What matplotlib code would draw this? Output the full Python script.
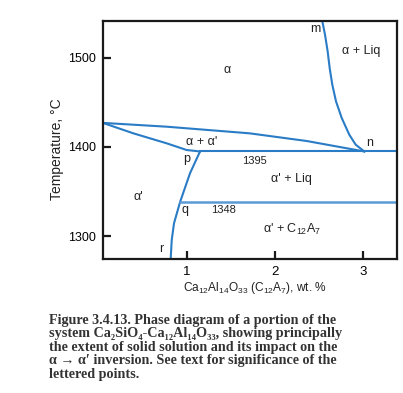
import matplotlib
matplotlib.use("Agg")
import matplotlib.pyplot as plt
from matplotlib import font_manager

names = {f.name for f in font_manager.fontManager.ttflist}
SANS = "Liberation Sans Narrow" if "Liberation Sans Narrow" in names else "Liberation Sans"

plt.rcParams['mathtext.fontset'] = 'custom'
plt.rcParams['mathtext.rm'] = SANS
plt.rcParams['mathtext.it'] = SANS
plt.rcParams['mathtext.bf'] = 'Liberation Serif:bold'

# ---- data ----
upper_x = [0.04, 0.77, 1.71, 2.36, 3.015]
upper_y = [1427, 1422.7, 1415.3, 1406.7, 1395]
lower_x = [0.04, 0.387, 0.767, 0.994, 1.146]
lower_y = [1427, 1415.3, 1404.1, 1396.6, 1395]
m_x = [2.536, 2.568, 2.598, 2.621, 2.651, 2.693, 2.758, 2.844, 2.917, 3.015]
m_y = [1541.4, 1525.7, 1507.1, 1488.4, 1469.7, 1451.1, 1432.5, 1413.8, 1402.6, 1395]
pqr_x = [1.146, 1.032, 0.918, 0.85, 0.824, 0.812]
pqr_y = [1395, 1370.6, 1338.1, 1314.6, 1295.9, 1274.6]
eut_x = [1.146, 3.387]
eut_y = [1395, 1395]
q_x = [0.918, 3.387]
q_y = [1338.1, 1338.1]

xticks = [1, 2, 3]
yticks = [1300, 1400, 1500]

labels = [
    ("m", 2.46, 1532), ("α + Liq", 2.98, 1508), ("α", 1.45, 1486),
    ("α + α'", 1.17, 1406), ("n", 3.08, 1405), ("p", 0.99, 1387),
    ("1395", 1.77, 1384), ("α' + Liq", 2.19, 1364), ("α'", 0.45, 1344),
    ("q", 0.97, 1329), ("1348", 1.41, 1329),
    ("α' + C$_{12}$A$_7$", 2.19, 1308), ("r", 0.70, 1286),
]

caption = [
    "Figure 3.4.13. Phase diagram of a portion of the",
    "system Ca₂SiO₄-Ca₁₂Al₁₄O₃₃, showing principally",
    "the extent of solid solution and its impact on the",
    "α → α′ inversion. See text for significance of the",
    "lettered points.",
]
caption_y = [320.5, 333.9, 347.3, 360.7, 374.1]

W, H = 403, 393
fig = plt.figure(figsize=(W / 100, H / 100), dpi=100)
ax = fig.add_axes([103 / W, 1 - 259 / H, (397 - 103) / W, (259 - 20.7) / H])

blue = "#2a7cc6"
lw = 1.5
ax.plot(upper_x, upper_y, color=blue, lw=lw)
ax.plot(lower_x, lower_y, color=blue, lw=lw)
ax.plot(m_x, m_y, color=blue, lw=lw)
ax.plot(pqr_x, pqr_y, color=blue, lw=lw)
ax.plot(eut_x, eut_y, color=blue, lw=lw)
ax.plot(q_x, q_y, color="#5c9ad6", lw=lw + 0.3)

ax.set_xlim(0.042, 3.387)
ax.set_ylim(1274.6, 1541.4)
ax.set_xticks(xticks)
ax.set_yticks(yticks)
ax.set_xticklabels([str(v) for v in xticks], fontsize=9.5, family=SANS)
ax.set_yticklabels([str(v) for v in yticks], fontsize=9, family=SANS)
ax.tick_params(direction="in", length=6, width=1.6, color="#1a1a1a", pad=5)
for s in ax.spines.values():
    s.set_linewidth(1.6)
    s.set_color("#1a1a1a")

for t, x, y in labels:
    fs = 8 if t in ("1395", "1348") else 9
    ax.text(x, y, t, ha="center", va="center", fontsize=fs, family=SANS, color="#222222")

fig.text(57 / W, 1 - 149 / H, "Temperature, °C", rotation=90, ha="center", va="center",
         fontsize=10, family=SANS, color="#222222")
fig.text(255 / W, 1 - 288 / H, "Ca$_{12}$Al$_{14}$O$_{33}$ (C$_{12}$A$_7$), wt. %",
         ha="center", va="center", fontsize=8.6, family=SANS, color="#222222")

for line, yy in zip(caption, caption_y):
    fig.text(49 / W, 1 - yy / H, line, ha="left", va="center",
             fontsize=10.2, family=["Liberation Serif", "DejaVu Serif"], weight="bold",
             color="#333333")

fig.savefig("out.png", dpi=100)
